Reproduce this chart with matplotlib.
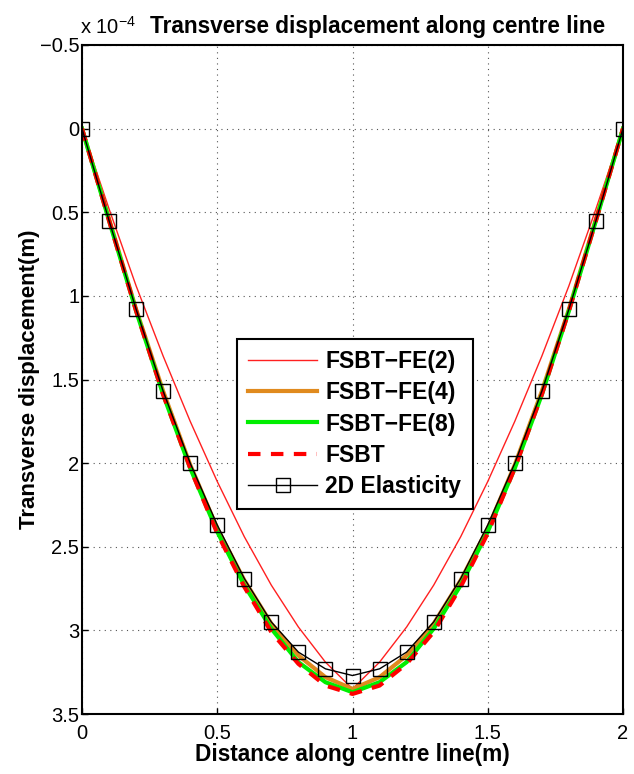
import matplotlib.pyplot as plt
import numpy as np

plt.rcParams['font.family'] = ['Liberation Sans', 'DejaVu Sans']

# distance along centre line (m), left half; right half mirrors it
x_half = [0.0, 0.1, 0.2, 0.3, 0.4, 0.5, 0.6, 0.7, 0.8, 0.9, 1.0]

# transverse displacement (x 1e-4 m)
fe2_half = [0.0, 0.48, 0.94, 1.36, 1.75, 2.11, 2.44, 2.73, 2.98, 3.19, 3.35]
fe4_half = [0.0, 0.54, 1.08, 1.57, 2.01, 2.39, 2.70, 2.96, 3.15, 3.28, 3.35]
fe8_half = [0.0, 0.55, 1.09, 1.59, 2.03, 2.41, 2.73, 2.99, 3.19, 3.31, 3.37]
fsbt_half = [0.0, 0.55, 1.09, 1.59, 2.03, 2.42, 2.74, 3.01, 3.20, 3.33, 3.38]
elas_half = [0.0, 0.55, 1.08, 1.57, 2.00, 2.37, 2.69, 2.95, 3.13, 3.23, 3.27]

y_ticks = [-0.5, 0, 0.5, 1, 1.5, 2, 2.5, 3, 3.5]
x_ticks = [0, 0.5, 1, 1.5, 2]


def mirror(xs, ys):
    xs = np.asarray(xs)
    ys = np.asarray(ys)
    return np.concatenate([xs, 2.0 - xs[-2::-1]]), np.concatenate([ys, ys[-2::-1]])


fig = plt.figure(figsize=(6.34, 7.74), dpi=100)
ax = fig.add_axes([82 / 634, 60 / 774, 541 / 634, 669 / 774])

x, y = mirror(x_half, fe2_half)
ax.plot(x, y, color='#ff2020', lw=1.0, label='FSBT\u2212FE(2)')
x, y = mirror(x_half, fe4_half)
ax.plot(x, y, color='#e08a1e', lw=3.0, label='FSBT\u2212FE(4)')
x, y = mirror(x_half, fe8_half)
ax.plot(x, y, color='#00ee00', lw=3.0, label='FSBT\u2212FE(8)')
x, y = mirror(x_half, fsbt_half)
ax.plot(x, y, color='#ff0000', lw=3.0, ls=(0, (3, 2.5)), label='FSBT')
x, y = mirror(x_half, elas_half)
ax.plot(x, y, color='black', lw=1.0, marker='s', ms=10.5, mfc='none',
        mec='black', mew=1.0, label='2D Elasticity')

ax.set_xlim(0, 2)
ax.set_ylim(3.5, -0.5)
ax.set_xticks(x_ticks)
ax.set_xticklabels(['0', '0.5', '1', '1.5', '2'])
ax.set_yticks(y_ticks)
ax.set_yticklabels(['\u22120.5', '0', '0.5', '1', '1.5', '2', '2.5', '3', '3.5'])
ax.tick_params(direction='in', length=4, labelsize=14.5, width=1)
ax.tick_params(axis='x', pad=7)
ax.tick_params(axis='y', pad=2)
ax.grid(True, ls=(0, (1, 4)), color='#555555', lw=0.8)
for s in ax.spines.values():
    s.set_linewidth(1.5)

ax.set_xlabel('Distance along centre line(m)', fontsize=16.3, fontweight='bold', labelpad=0)
ax.set_ylabel('Transverse displacement(m)', fontsize=16, fontweight='bold', labelpad=0)

fig.text(80 / 634, 1 - 27 / 774, 'x 10$^{\\mathregular{-4}}$', fontsize=14.5,
         ha='left', va='center')
fig.text(150 / 634, 1 - 27 / 774, 'Transverse displacement along centre line',
         fontsize=16.3, fontweight='bold', ha='left', va='center')

leg = ax.legend(loc='upper left', bbox_to_anchor=((237 - 82) / 541, (715 - 340) / 669),
                prop={'weight': 'bold', 'size': 16.5}, handlelength=3.0,
                handletextpad=0.35, borderpad=0.5,
                fancybox=False, framealpha=1, edgecolor='black',
                borderaxespad=0, labelspacing=0.35)
leg.get_frame().set_linewidth(1.5)

fig.savefig('out.png', dpi=100)
plt.close(fig)
